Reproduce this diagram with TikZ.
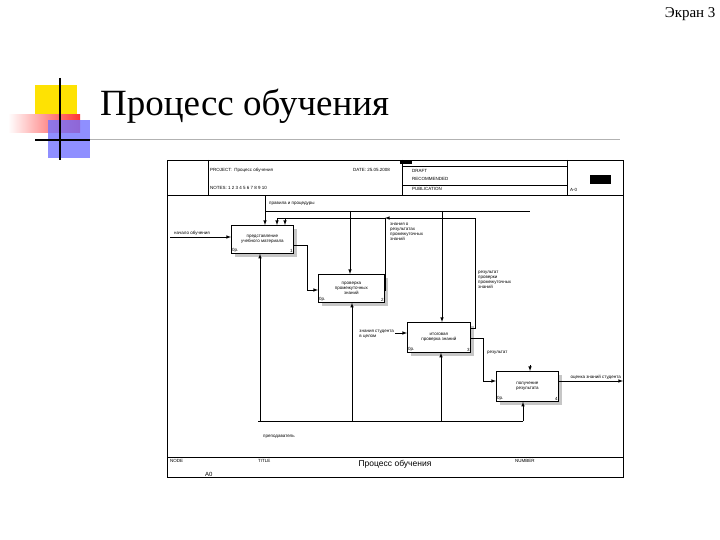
\documentclass[tikz,border=0pt]{standalone}
\usepackage{fontspec}
\setmainfont{Liberation Serif}
\newfontfamily\sans{Liberation Sans}
\begin{document}
\begin{tikzpicture}[x=1pt,y=-1pt,
  fn/.style={draw,thick,fill=white,minimum width=62pt,minimum height=28pt,inner sep=0pt,font=\sans\fontsize{4.5}{5}\selectfont,align=center},
  shadow/.style={fill=gray!45,draw=none},
  lbl/.style={font=\sans\fontsize{4.5}{5}\selectfont,align=left,inner sep=1pt},
  hd/.style={font=\sans\fontsize{4.5}{5}\selectfont,anchor=west,inner sep=0pt},
  ar/.style={->,>=latex,line width=0.6pt},
  ln/.style={line width=0.6pt}]
\useasboundingbox (0,0) rectangle (720,540);
% slide decoration
\node[font=\fontsize{15}{17}\selectfont,anchor=north east] (scr) at (719,4) {Экран 3};
\fill[yellow!85!orange] (35,85) rectangle (77,123);
\shade[left color=white,right color=red!80] (8,115) rectangle (80,133);
\fill[blue!55,opacity=0.8] (48,120) rectangle (90,158);
\draw[line width=1.5pt] (60,78) -- (60,160);
\draw[line width=1.5pt] (35,140) -- (90,140);
\draw[gray!60,line width=1pt] (90,140) -- (620,140);
\node[font=\fontsize{37}{40}\selectfont,anchor=west,inner sep=0pt] (ttl) at (100,106) {Процесс обучения};
% frame
\draw[line width=0.8pt] (167,160) rectangle (623,477);
\draw[ln] (167,195) -- (623,195);
\draw[ln] (208,160) -- (208,195);
\draw[ln] (567,160) -- (567,195);
\draw[ln] (402,166) -- (567,166);
\draw[ln] (402,185) -- (567,185);
\draw[ln] (402,160) -- (402,195);
\fill (400,160) rectangle (412,164);
\fill (590,175) rectangle (611,184);
\node[hd] (p) at (210,170) {PROJECT: \ Процесс обучения};
\node[hd] (d) at (353,170) {DATE: 25.05.2008};
\node[hd] (n) at (210,188) {NOTES: 1 2 3 4 5 6 7 8 9 10};
\node[hd] (r1) at (412,171) {DRAFT};
\node[hd] (r2) at (412,179) {RECOMMENDED};
\node[hd] (r3) at (412,189) {PUBLICATION};
\node[hd] (a0) at (570,190) {A-0};
\draw[ln] (167,457) -- (623,457);
\node[hd] (nd) at (170,461) {NODE};
\node[hd] (tl) at (258,461) {TITLE};
\node[hd] (nm) at (515,461) {NUMBER};
\node[hd,font=\sans\fontsize{6}{7}\selectfont] (a0b) at (205,474) {A0};
\node[font=\sans\fontsize{8.5}{10}\selectfont] (tt) at (395,464) {Процесс обучения};
% boxes with shadows
\fill[shadow] (235,229) rectangle (297,257);
\fill[shadow] (322,278) rectangle (388,306);
\fill[shadow] (411,326) rectangle (474,356);
\fill[shadow] (500,375) rectangle (562,405);
\node[fn,anchor=north west,minimum width=62pt,minimum height=28pt] (b1) at (231,225) {представление\\учебного материала};
\node[fn,anchor=north west,minimum width=66pt,minimum height=28pt] (b2) at (318,274) {проверка\\промежуточных\\знаний};
\node[fn,anchor=north west,minimum width=63pt,minimum height=30pt] (b3) at (407,322) {итоговая\\проверка знаний};
\node[fn,anchor=north west,minimum width=62pt,minimum height=30pt] (b4) at (496,371) {получение\\результата};
\foreach \b/\k in {b1/1,b2/2,b3/3,b4/4}{
  \node[lbl,anchor=south west] at (\b.south west) {0р.};
  \node[lbl,anchor=south east] at (\b.south east) {\k};}
% controls
\coordinate (c0) at (265,196);
\coordinate (ce) at (530,211);
\draw[ln] (c0) -- (265,211) -- (ce);
\draw[ar] (265,211) -- (b1.north -| 265,0);
\draw[ar] (350,211) -- (b2.north -| 350,0);
\draw[ar] (442,211) -- (b3.north -| 442,0);
\node[lbl,anchor=west] (lc) at (268,204) {правила и процедуры};
\draw[ar] (b2.east |- 0,290) -- (385,290) -- (385,218) -- (285,218) -- (b1.north -| 285,0);
\draw[ar] (385,218) -- (277,218) -- (b1.north -| 277,0);
\draw[ar] (b3.east |- 0,328) -- (475,328) -- (475,218) -- (385,218);
\node[lbl,anchor=north west] (l2) at (389,222) {знания о\\результатах\\промежуточных\\знаний};
\node[lbl,anchor=north west] (l3) at (477,270) {результат\\проверки\\промежуточных\\знаний};
% inputs
\coordinate (i0) at (170,237);
\draw[ar] (i0) -- (b1.west |- 0,237);
\node[lbl,anchor=south west] (li) at (173,237) {начало обучения};
\draw[ar] (b1.east |- 0,245) -- (307,245) -- (307,290) -- (b2.west |- 0,290);
\coordinate (i3) at (395,333);
\draw[ar] (i3) -- (b3.west |- 0,333);
\node[lbl,anchor=east] (l4) at (395,334) {знания студента\\в целом};
\draw[ar] (b3.east |- 0,338) -- (483,338) -- (483,381) -- (b4.west |- 0,381);
\node[lbl,anchor=west] (l5) at (486,353) {результат};
\coordinate (o4) at (623,381);
\draw[ar] (b4.east |- 0,381) -- (o4);
\node[lbl,anchor=south east] (l6) at (622,381) {оценка знаний студента};
\draw[ar] (530,365) -- (b4.north -| 530,0);
% mechanisms
\coordinate (m0) at (258,421);
\draw[ln] (m0) -- (523,421);
\draw[ar] (260,421) -- (b1.south -| 260,0);
\draw[ar] (352,421) -- (b2.south -| 352,0);
\draw[ar] (441,421) -- (b3.south -| 441,0);
\draw[ar] (523,421) -- (b4.south -| 523,0);
\node[lbl,anchor=west] (l7) at (262,437) {преподаватель};
\end{tikzpicture}
\end{document}
